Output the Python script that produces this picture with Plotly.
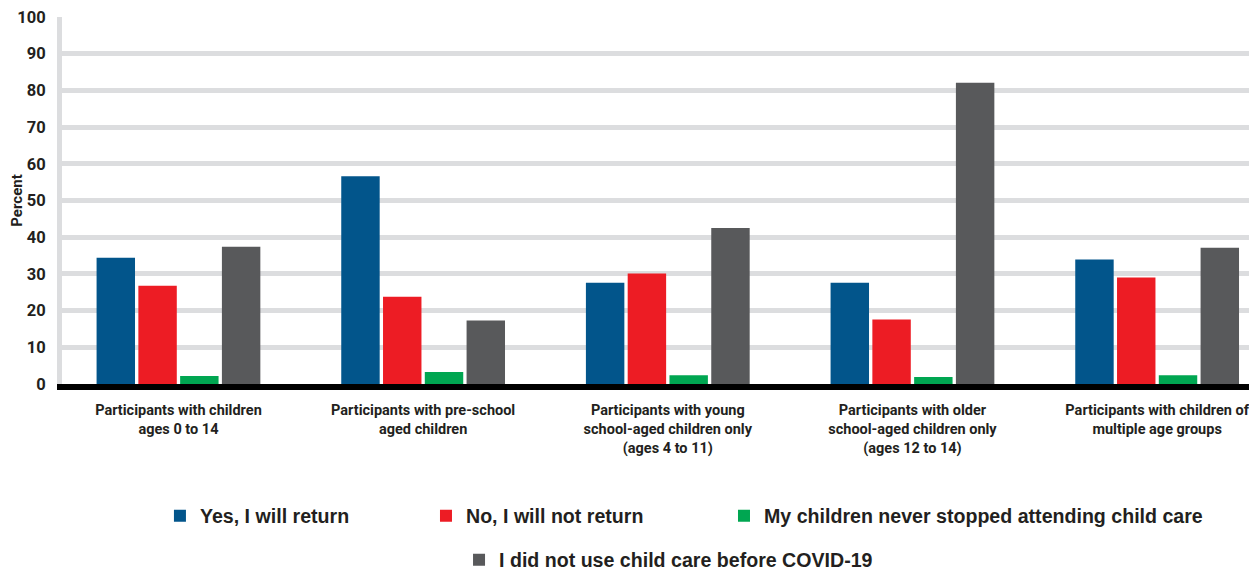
import plotly.graph_objects as go

categories = [
    "Participants with children<br>ages 0 to 14",
    "Participants with pre-school<br>aged children",
    "Participants with young<br>school-aged children only<br>(ages 4 to 11)",
    "Participants with older<br>school-aged children only<br>(ages 12 to 14)",
    "Participants with children of<br>multiple age groups",
]
series_names = [
    "Yes, I will return",
    "No, I will not return",
    "My children never stopped attending child care",
    "I did not use child care before COVID-19",
]
yes_return = [34.4, 56.6, 27.6, 27.6, 33.9]
no_return = [26.8, 23.8, 30.1, 17.6, 29.0]
never_stopped = [2.2, 3.3, 2.4, 1.9, 2.4]
no_child_care = [37.4, 17.3, 42.5, 82.1, 37.1]
y_ticks = [0, 10, 20, 30, 40, 50, 60, 70, 80, 90, 100]

colors = ["#02558B", "#ED1C24", "#00A651", "#58595B"]
values = [yes_return, no_return, never_stopped, no_child_care]
legend_ids = ["legend", "legend2", "legend3", "legend4"]

NARROW = "Roboto, Liberation Sans, sans-serif"
WIDE = "Liberation Sans, Arial, sans-serif"
TXT = "#231F20"

fig = go.Figure()
for name, vals, col, lg in zip(series_names, values, colors, legend_ids):
    fig.add_trace(go.Bar(
        x=list(range(len(categories))), y=vals, name=name,
        marker=dict(color=col, line=dict(width=0)),
        legend=lg, showlegend=True,
    ))

legend_common = dict(
    orientation="h", xanchor="left", yanchor="middle",
    bgcolor="rgba(0,0,0,0)", borderwidth=0,
    font=dict(family=WIDE, size=19.6, color=TXT, weight="bold"),
)

fig.update_layout(
    width=1257, height=571,
    margin=dict(l=54, r=10, t=9, b=195, autoexpand=False),
    paper_bgcolor="white", plot_bgcolor="white",
    showlegend=True,
    barmode="group", bargap=0.317, bargroupgap=0.08,
    xaxis=dict(
        tickmode="array", tickvals=list(range(len(categories))), ticktext=categories,
        range=[-0.476, 4.40], automargin=False,
        showline=True, linecolor="black", linewidth=6,
        showgrid=False, zeroline=False, ticks="",
        ticklabelstandoff=8, ticklabeloverflow="allow",
        tickfont=dict(family=NARROW, size=14.5, color=TXT, weight="bold"),
    ),
    yaxis=dict(
        range=[0, 100], tickmode="array", tickvals=y_ticks, automargin=False,
        showgrid=True, gridcolor="#DCDDDF", gridwidth=5,
        showline=True, linecolor="#DCDDDF", linewidth=5, mirror=True,
        zeroline=False, ticks="", ticklabelstandoff=8, ticklabeloverflow="allow",
        tickfont=dict(family=NARROW, size=16.5, color=TXT, weight="bold"),
        title=dict(text="Percent", standoff=0,
                   font=dict(family=NARROW, size=15, color=TXT, weight="bold")),
    ),
    legend=dict(x=0.0821, y=-0.3597, **legend_common),
    legend2=dict(x=0.3051, y=-0.3597, **legend_common),
    legend3=dict(x=0.5549, y=-0.3597, **legend_common),
    legend4=dict(x=0.3328, y=-0.4795, **legend_common),
)

fig.write_html("out.html")
